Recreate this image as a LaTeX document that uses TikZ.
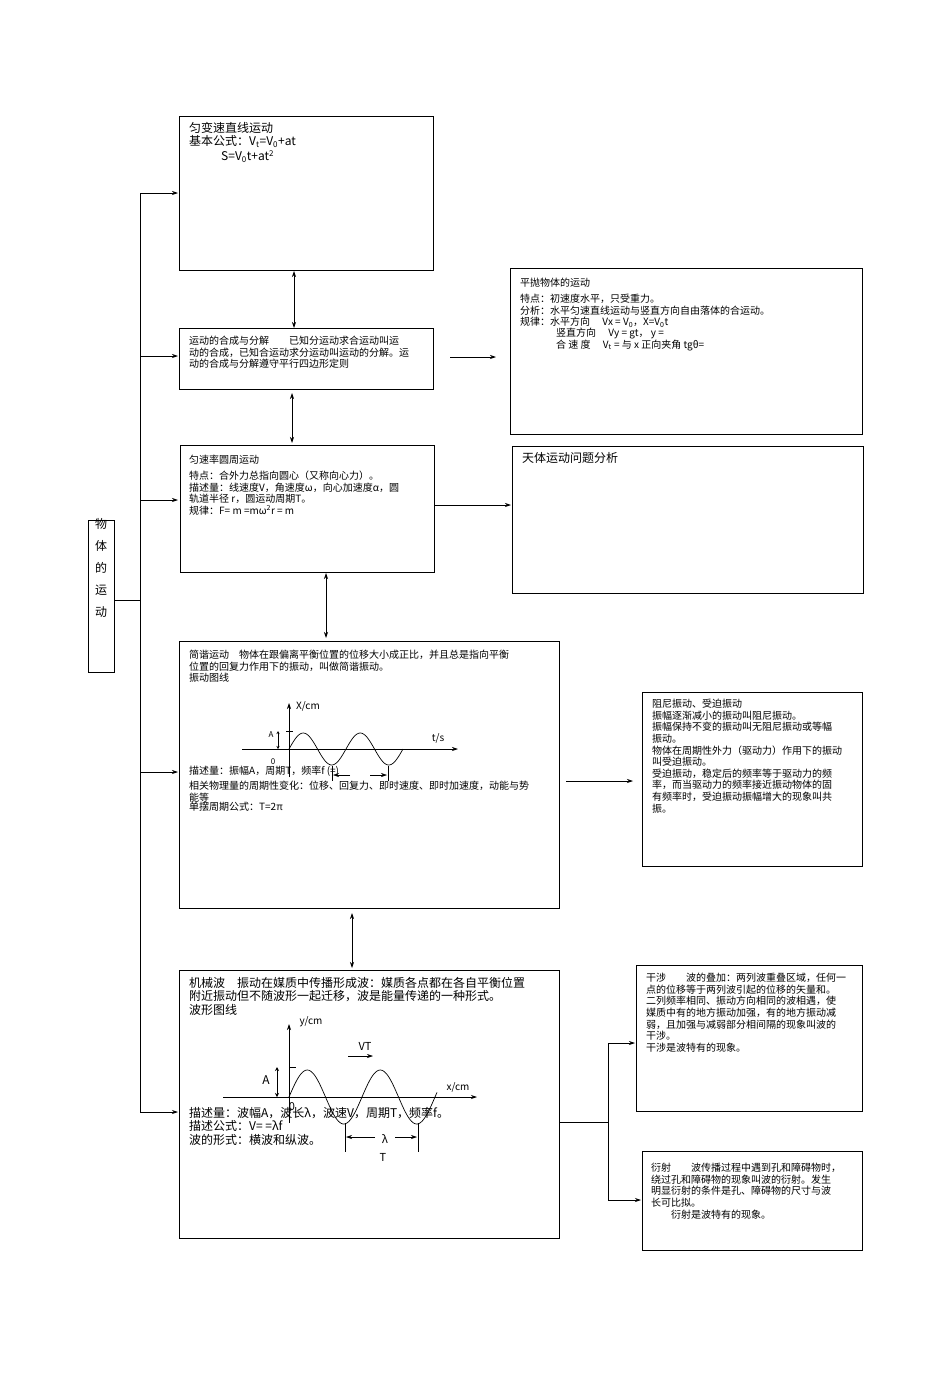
\documentclass[tikz,border=0pt]{standalone}
\usepackage{fontspec}
\setmainfont{Noto Sans CJK SC}
\usetikzlibrary{arrows.meta}
\begin{document}
\begin{tikzpicture}[x=1pt,y=-1pt,
 box/.style={draw,line width=0.8pt},
 txt/.style={anchor=north west,inner sep=0pt,align=left,font=\fontsize{10}{11.6}\selectfont},
 txtb/.style={anchor=north west,inner sep=0pt,align=left,font=\fontsize{12}{13.5}\selectfont},
 arr/.style={-{Stealth[length=6pt,width=4pt]},line width=0.7pt},
 darr/.style={{Stealth[length=6pt,width=4pt]}-{Stealth[length=6pt,width=4pt]},line width=0.7pt},
 ln/.style={line width=0.7pt},
 sm/.style={inner sep=0pt,font=\fontsize{8}{9}\selectfont}]
\useasboundingbox (0,0) rectangle (950,1373);
% boxes
\draw[box] (179,116) rectangle (433,270) coordinate (b1br);
\coordinate (b1) at (179,116);
\draw[box] (179,328) rectangle (433,389);
\draw[box] (180,445) rectangle (434,572);
\draw[box] (179,641) rectangle (559,908);
\draw[box] (179,970) rectangle (559,1238);
\draw[box] (510,268) rectangle (862,434);
\draw[box] (512,446) rectangle (863,593);
\draw[box] (642,692) rectangle (862,866);
\draw[box] (636,965) rectangle (862,1111);
\draw[box] (642,1151) rectangle (862,1250);
\draw[box] (88,520) rectangle (114,672);
\node[inner sep=0pt,align=center,font=\fontsize{12}{22}\selectfont] (root) at (101,568) {物\\体\\的\\运\\动};
% tree
\coordinate (tr) at (140,600);
\draw[ln] (114,600) -- (tr);
\draw[ln] (140,193) -- (140,1112);
\foreach \y in {193,356,500,772,1112} \draw[arr] (140,\y) -- (178,\y);
\draw[darr] (294,271) -- (294,328);
\draw[darr] (292,393) -- (292,443);
\draw[darr] (326,573) -- (326,638);
\draw[darr] (352,913) -- (352,968);
\draw[arr] (450,357) -- (496,357);
\draw[arr] (434,505) -- (511,505);
\draw[arr] (566,781) -- (633,781);
\draw[ln] (559,1122) -- (608,1122);
\draw[ln] (608,1043) -- (608,1200);
\draw[arr] (608,1043) -- (635,1043);
\draw[arr] (608,1200) -- (641,1200);
% texts
\node[txtb] (t1) at (189,122) {匀变速直线运动\\基本公式：V\textsubscript{t}=V\textsubscript{0}+at};
\node[txtb] (t1b) at (221,150) {S=V\textsubscript{0}t+at\textsuperscript{2}};
\node[txt] (t2) at (189,336) {运动的合成与分解　　已知分运动求合运动叫运\\动的合成，已知合运动求分运动叫运动的分解。运\\动的合成与分解遵守平行四边形定则};
\node[txt] (t3) at (189,455) {匀速率圆周运动};
\node[txt] (t3b) at (189,471) {特点：合外力总指向圆心（又称向心力）。\\描述量：线速度V，角速度ω，向心加速度α，圆\\轨道半径 r，圆运动周期T。\\规律：F= m =mω\textsuperscript{2}r = m};
\node[txt] (r1) at (520,278) {平抛物体的运动};
\node[txt] (r1b) at (520,294) {特点：初速度水平，只受重力。\\分析：水平匀速直线运动与竖直方向自由落体的合运动。\\规律：水平方向　 Vx = V\textsubscript{0}，X=V\textsubscript{0}t};
\node[txt] (r1c) at (556,328) {竖直方向　 Vy = gt， y =\\合 速 度　 V\textsubscript{t} = 与 x 正向夹角 tgθ=};
\node[txtb] (r2) at (522,452) {天体运动问题分析};
\node[txt] (t4) at (189,650) {简谐运动　物体在跟偏离平衡位置的位移大小成正比，并且总是指向平衡\\位置的回复力作用下的振动，叫做简谐振动。\\振动图线};
\node[txt] (t4b) at (189,766) {描述量：振幅A，周期T，频率f (=)};
\node[txt] (t4c) at (189,781) {相关物理量的周期性变化：位移、回复力、即时速度、即时加速度，动能与势\\能等};
\node[txt] (t4d) at (189,802) {单摆周期公式：T=2π};
\node[txt] (r3) at (652,699) {阻尼振动、受迫振动\\振幅逐渐减小的振动叫阻尼振动。\\振幅保持不变的振动叫无阻尼振动或等幅\\振动。\\物体在周期性外力（驱动力）作用下的振动\\叫受迫振动。\\受迫振动，稳定后的频率等于驱动力的频\\率，而当驱动力的频率接近振动物体的固\\有频率时，受迫振动振幅增大的现象叫共\\振。};
\node[txtb] (t5) at (189,977) {机械波　振动在媒质中传播形成波：媒质各点都在各自平衡位置\\附近振动但不随波形一起迁移，波是能量传递的一种形式。\\波形图线};
\node[txtb] (t5b) at (189,1107) {描述量：波幅A，波长λ，波速V，周期T，频率f。\\描述公式：V= =λf\\波的形式：横波和纵波。};
\node[txt] (r4) at (646,973) {干涉　　波的叠加：两列波重叠区域，任何一\\点的位移等于两列波引起的位移的矢量和。\\二列频率相同、振动方向相同的波相遇，使\\媒质中有的地方振动加强，有的地方振动减\\弱，且加强与减弱部分相间隔的现象叫波的\\干涉。\\干涉是波特有的现象。};
\node[txt] (r5) at (651,1163) {衍射　　波传播过程中遇到孔和障碍物时，\\绕过孔和障碍物的现象叫波的衍射。发生\\明显衍射的条件是孔、障碍物的尺寸与波\\长可比拟。\\　　衍射是波特有的现象。};
% vibration graph
\draw[arr] (242,749) -- (458,749);
\draw[arr] (289,777) -- (289,703);
\draw[ln,domain=0:114,samples=80] plot (289+\x,{749-16*sin(\x/57*360)});
\draw[ln] (286,731) -- (293,731);
\draw[{Stealth[length=3pt,width=3pt]}-{Stealth[length=3pt,width=3pt]},line width=0.5pt] (278,731) -- (278,749);
\node[sm] (la) at (271,735) {A};
\node[sm] (l0) at (273,762) {0};
\node[sm,font=\fontsize{10}{11}\itshape] (lx) at (308,706) {X/cm};
\node[sm,font=\fontsize{10}{11}\itshape] (lt) at (438,738) {t/s};
\draw[ln] (332,766) -- (332,781); \draw[ln] (388,766) -- (388,781);
\draw[arr,line width=0.5pt] (350,775) -- (333,775);
\draw[arr,line width=0.5pt] (370,775) -- (387,775);
% wave graph
\draw[arr] (223,1097) -- (477,1097);
\draw[arr] (289,1123) -- (289,1024);
\draw[ln,domain=0:148,samples=100] plot (289+\x,{1097-27*sin(\x/73*360)});
\draw[ln] (290,1067) -- (296,1067);
\draw[{Stealth[length=4pt,width=4pt]}-{Stealth[length=4pt,width=4pt]},line width=0.6pt] (277,1067) -- (277,1097);
\node[sm,font=\fontsize{12}{13}\selectfont] (wa) at (266,1080) {A};
\node[sm,font=\fontsize{11}{12}\selectfont] (w0) at (292,1107) {0};
\node[sm,font=\fontsize{10}{11}\itshape] (wy) at (311,1022) {y/cm};
\node[sm,font=\fontsize{10}{11}\itshape] (wx) at (458,1087) {x/cm};
\node[sm,font=\fontsize{11}{12}\selectfont] (vt) at (365,1046) {VT};
\draw[arr,line width=0.6pt] (348,1056) -- (373,1056);
\draw[ln] (345,1123) -- (345,1152); \draw[ln] (418,1123) -- (418,1152);
\draw[arr,line width=0.6pt] (375,1137) -- (346,1137);
\draw[arr,line width=0.6pt] (395,1137) -- (417,1137);
\node[sm,font=\fontsize{11}{12}\selectfont] (lam) at (385,1139) {λ};
\node[sm,font=\fontsize{11}{12}\selectfont] (wt) at (383,1157) {T};
\end{tikzpicture}
\end{document}
